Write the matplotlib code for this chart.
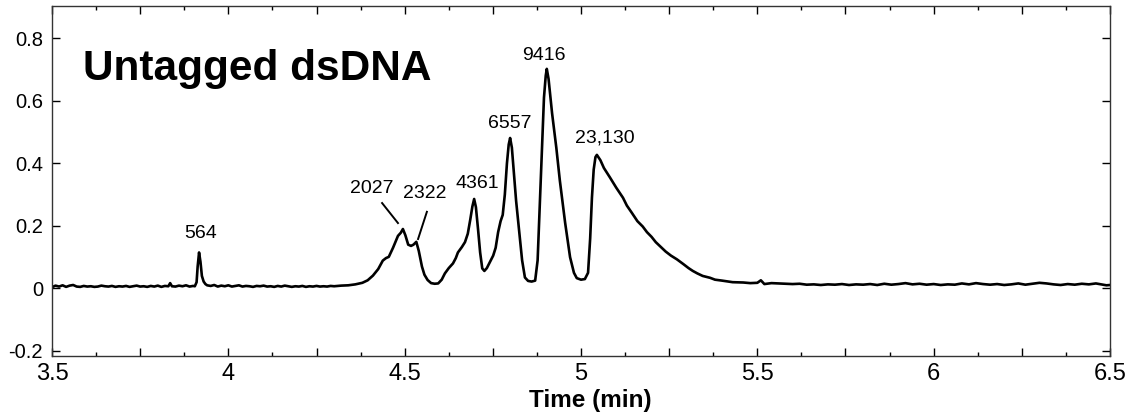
import matplotlib
matplotlib.use("Agg")
import matplotlib.pyplot as plt
from matplotlib.ticker import MultipleLocator, FuncFormatter

plt.rcParams['font.family'] = ['Liberation Sans', 'DejaVu Sans']

# Electropherogram trace (time in min, absorbance)
time_min = [
    3.50, 3.51, 3.52, 3.53, 3.54, 3.55, 3.56, 3.57, 3.58, 3.59,
    3.60, 3.61, 3.62, 3.63, 3.64, 3.65, 3.66, 3.67, 3.68, 3.69,
    3.70, 3.71, 3.72, 3.73, 3.74, 3.75, 3.76, 3.77, 3.78, 3.79,
    3.80, 3.81, 3.82, 3.83, 3.835, 3.84, 3.85, 3.86, 3.87, 3.88,
    3.89, 3.90, 3.905, 3.91, 3.913, 3.917, 3.921, 3.925, 3.93, 3.935,
    3.94, 3.95, 3.96, 3.97, 3.98, 3.99, 4.00, 4.01, 4.02, 4.03,
    4.04, 4.05, 4.06, 4.07, 4.08, 4.09, 4.10, 4.11, 4.12, 4.13,
    4.14, 4.15, 4.16, 4.17, 4.18, 4.19, 4.20, 4.21, 4.22, 4.23,
    4.24, 4.25, 4.26, 4.27, 4.28, 4.29, 4.30,
    4.32, 4.34, 4.36, 4.38, 4.395, 4.41, 4.425, 4.438, 4.447, 4.455,
    4.467, 4.481, 4.489, 4.495, 4.502, 4.51, 4.518, 4.525, 4.533, 4.54,
    4.549, 4.556, 4.565, 4.575, 4.585, 4.595, 4.605, 4.614, 4.625, 4.637,
    4.645, 4.651, 4.662, 4.671, 4.679, 4.686, 4.692, 4.697, 4.702, 4.708,
    4.714, 4.72, 4.726, 4.733, 4.742, 4.751, 4.758, 4.765, 4.772, 4.778,
    4.784, 4.79, 4.795, 4.799, 4.804, 4.809, 4.816, 4.825, 4.833, 4.841,
    4.85, 4.86, 4.87, 4.877, 4.884, 4.89, 4.895, 4.90, 4.903, 4.908,
    4.918, 4.93, 4.94, 4.955, 4.969, 4.98, 4.988, 5.00, 5.011, 5.02,
    5.026, 5.031, 5.036, 5.041, 5.045, 5.055, 5.065, 5.082, 5.10, 5.119,
    5.13, 5.144, 5.16, 5.175, 5.187, 5.20, 5.212, 5.224, 5.24, 5.255,
    5.272, 5.29, 5.305, 5.317, 5.33, 5.345, 5.366, 5.38, 5.40, 5.43,
    5.46, 5.48, 5.50, 5.51, 5.52, 5.54, 5.56, 5.58, 5.60, 5.62,
    5.64, 5.66, 5.68, 5.70, 5.72, 5.74, 5.76, 5.78, 5.80, 5.82,
    5.84, 5.86, 5.88, 5.90, 5.92, 5.94, 5.96, 5.98, 6.00, 6.02,
    6.04, 6.06, 6.08, 6.10, 6.12, 6.14, 6.16, 6.18, 6.20, 6.22,
    6.24, 6.26, 6.28, 6.30, 6.32, 6.34, 6.36, 6.38, 6.40, 6.42,
    6.44, 6.46, 6.48, 6.49, 6.50,
]
absorbance = [
    0.004, 0.009, 0.006, 0.010, 0.005, 0.009, 0.011, 0.006, 0.005, 0.008,
    0.006, 0.007, 0.005, 0.006, 0.009, 0.007, 0.006, 0.008, 0.005, 0.007,
    0.006, 0.008, 0.005, 0.007, 0.009, 0.006, 0.007, 0.005, 0.008, 0.006,
    0.009, 0.005, 0.008, 0.007, 0.017, 0.007, 0.006, 0.009, 0.007, 0.010,
    0.006, 0.008, 0.007, 0.020, 0.070, 0.115, 0.085, 0.040, 0.022, 0.014,
    0.010, 0.008, 0.011, 0.006, 0.009, 0.007, 0.010, 0.006, 0.008, 0.010,
    0.006, 0.008, 0.007, 0.005, 0.008, 0.007, 0.009, 0.006, 0.007, 0.005,
    0.008, 0.006, 0.009, 0.007, 0.005, 0.007, 0.006, 0.008, 0.005, 0.007,
    0.006, 0.008, 0.006, 0.007, 0.006, 0.008, 0.007,
    0.009, 0.010, 0.013, 0.018, 0.026, 0.041, 0.062, 0.089, 0.097, 0.101,
    0.130, 0.168, 0.178, 0.190, 0.170, 0.140, 0.136, 0.140, 0.149, 0.120,
    0.070, 0.044, 0.027, 0.017, 0.015, 0.016, 0.028, 0.048, 0.065, 0.080,
    0.097, 0.115, 0.132, 0.148, 0.175, 0.220, 0.262, 0.286, 0.260, 0.190,
    0.115, 0.064, 0.056, 0.065, 0.085, 0.105, 0.130, 0.180, 0.215, 0.235,
    0.300, 0.400, 0.460, 0.481, 0.450, 0.380, 0.280, 0.180, 0.090, 0.035,
    0.024, 0.022, 0.025, 0.090, 0.290, 0.470, 0.610, 0.680, 0.702, 0.670,
    0.560, 0.450, 0.345, 0.210, 0.100, 0.050, 0.033, 0.028, 0.030, 0.050,
    0.160, 0.290, 0.380, 0.420, 0.427, 0.410, 0.385, 0.355, 0.322, 0.290,
    0.265, 0.242, 0.215, 0.198, 0.180, 0.165, 0.148, 0.135, 0.118, 0.105,
    0.093, 0.078, 0.065, 0.056, 0.048, 0.040, 0.034, 0.028, 0.025, 0.020,
    0.019, 0.017, 0.018, 0.026, 0.014, 0.017, 0.016, 0.015, 0.014, 0.015,
    0.012, 0.013, 0.011, 0.013, 0.012, 0.014, 0.011, 0.013, 0.012, 0.014,
    0.011, 0.015, 0.012, 0.014, 0.017, 0.013, 0.015, 0.012, 0.014, 0.011,
    0.013, 0.012, 0.016, 0.013, 0.017, 0.014, 0.012, 0.014, 0.011, 0.013,
    0.016, 0.012, 0.015, 0.018, 0.016, 0.013, 0.011, 0.014, 0.012, 0.015,
    0.013, 0.016, 0.012, 0.010, 0.011,
]

# Peak labels (fragment sizes, bp) and their positions
peak_labels = ["564", "2027", "2322", "4361", "6557", "9416", "23,130"]
label_x = [3.92, 4.407, 4.558, 4.705, 4.799, 4.895, 5.068]
label_y = [0.161, 0.305, 0.289, 0.321, 0.513, 0.731, 0.465]

# Leader lines for the 2027 and 2322 labels
leader_x = [[4.436, 4.481], [4.563, 4.538]]
leader_y = [[0.273, 0.209], [0.245, 0.158]]

fig = plt.figure(figsize=(11.29, 4.17), dpi=100)
ax = fig.add_axes([52 / 1129, 61 / 417, 1058 / 1129, 350 / 417])

ax.plot(time_min, absorbance, color='black', lw=1.9, solid_joinstyle='round')

for txt, x, y in zip(peak_labels, label_x, label_y):
    ax.text(x, y, txt, ha='center', va='baseline', fontsize=14, color='black')
for lx, ly in zip(leader_x, leader_y):
    ax.plot(lx, ly, color='black', lw=1.4)

ax.text(0.0293, 0.789, "Untagged dsDNA", transform=ax.transAxes,
        ha='left', va='baseline', fontsize=30.5, fontweight='bold')

ax.set_xlim(3.5, 6.5)
ax.set_ylim(-0.216, 0.903)

ax.xaxis.set_major_locator(MultipleLocator(0.25))
ax.xaxis.set_minor_locator(MultipleLocator(0.125))
ax.yaxis.set_major_locator(MultipleLocator(0.2))


def xfmt(v, pos):
    if abs(v * 2 - round(v * 2)) < 1e-6:
        return "%g" % v
    return ""


def yfmt(v, pos):
    v = round(v, 3)
    if v == 0:
        return "0"
    return ("%g" % v)


ax.xaxis.set_major_formatter(FuncFormatter(xfmt))
ax.yaxis.set_major_formatter(FuncFormatter(yfmt))

ax.tick_params(axis='both', which='both', direction='in', top=True, right=True,
               color='black', width=1)
ax.tick_params(axis='x', which='major', length=5.5, labelsize=17, pad=5)
ax.tick_params(axis='x', which='minor', length=2.7)
ax.tick_params(axis='y', which='major', length=5.5, labelsize=14.5, pad=6.5)

for sp in ax.spines.values():
    sp.set_linewidth(1.0)
    sp.set_color('#333333')

ax.set_xlabel("Time (min)", fontsize=17.5, fontweight='bold')
ax.xaxis.label.set_verticalalignment('baseline')
ax.xaxis.set_label_coords(0.509, -0.146)

fig.savefig("out.png", dpi=100)
